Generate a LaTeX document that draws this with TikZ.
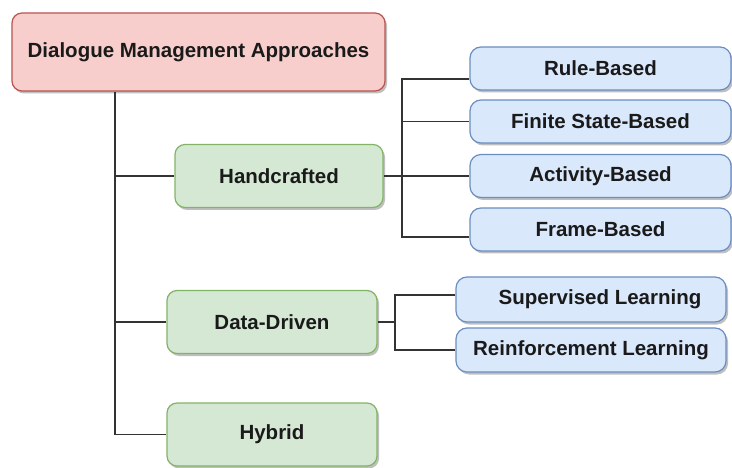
\documentclass[tikz,border=0pt]{standalone}
\usepackage{fontspec}
\setmainfont{Liberation Sans}
\usetikzlibrary{shadows}
\definecolor{rootfill}{HTML}{F8CECC}
\definecolor{rootline}{HTML}{B85450}
\definecolor{greenfill}{HTML}{D5E8D4}
\definecolor{greenline}{HTML}{82B366}
\definecolor{bluefill}{HTML}{DAE8FC}
\definecolor{blueline}{HTML}{6C8EBF}
\definecolor{wire}{HTML}{333333}
\definecolor{ink}{HTML}{1A1A1A}
\tikzset{
  box/.style={rectangle, rounded corners=10bp, line width=1.2bp, inner sep=0pt,
    text=ink, font=\fontsize{20.5bp}{24bp}\selectfont\bfseries,
    drop shadow={shadow xshift=2bp, shadow yshift=-2.5bp, opacity=0.25, fill=black}},
  rootbox/.style={box, fill=rootfill, draw=rootline, minimum width=373bp, minimum height=78bp},
  catbox/.style={box, fill=greenfill, draw=greenline, minimum width=210bp, minimum height=63bp},
  leafbox/.style={box, rounded corners=11bp, fill=bluefill, draw=blueline, minimum height=43bp},
  wireline/.style={draw=wire, line width=1.3bp}
}
\begin{document}
\begin{tikzpicture}[x=1bp, y=-1bp]
\useasboundingbox (0,0) rectangle (732,468);

% root and categories
\node[rootbox] (root) at (198.5,52) {Dialogue Management Approaches};
\node[catbox, minimum width=208bp] (hand) at (279,176) {Handcrafted};
\node[catbox] (dd) at (272,322) {Data-Driven};
\node[catbox] (hyb) at (272,434.5) {Hybrid};

% handcrafted leaves
\node[leafbox, minimum width=261bp] (rule) at (600.5,68.5) {Rule-Based};
\node[leafbox, minimum width=261bp] (fin) at (600.5,121.5) {Finite State-Based};
\node[leafbox, minimum width=261bp] (act) at (600.5,176) {Activity-Based};
\node[leafbox, minimum width=261bp] (frame) at (600.5,229.5) {Frame-Based};

% data-driven leaves
\node[leafbox, minimum width=270bp, minimum height=45bp] (sup) at (591,299.5) {\hspace*{18bp}Supervised Learning};
\node[leafbox, minimum width=270bp, minimum height=44bp] (rein) at (591,350) {Reinforcement Learning};

% junction coordinates
\coordinate (tx) at (115,0);
\coordinate (hj) at (402,176);
\coordinate (dj) at (395,322);
\coordinate (rj) at ([yshift=-10.5bp]rule.west);
\coordinate (fj) at ([yshift=-7.5bp]frame.west);
\coordinate (sj) at ([yshift=4.5bp]sup.west);

% trunk
\draw[wireline] (root.south -| tx) |- (hyb.west);
\draw[wireline] (hand.west -| tx) -- (hand.west);
\draw[wireline] (dd.west -| tx) -- (dd.west);

% handcrafted branch
\draw[wireline] (hand.east) -- (act.west);
\draw[wireline] (rj) -| (fj -| hj) -- (fj);
\draw[wireline] (fin.west -| hj) -- (fin.west);

% data-driven branch
\draw[wireline] (dd.east) -- (dj);
\draw[wireline] (sj) -| (dj) |- (rein.west);
\end{tikzpicture}
\end{document}
